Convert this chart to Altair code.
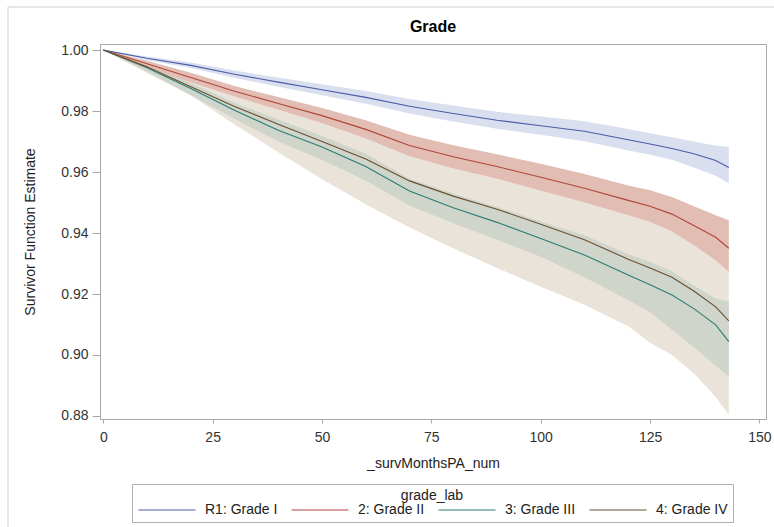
import altair as alt
import pandas as pd

# ---- data ----
months = [0, 10, 20, 30, 40, 50, 60, 70, 80, 90, 100, 110, 120, 125, 130, 135, 140, 143]
grade_labels = ["R1: Grade I", "2: Grade II", "3: Grade III", "4: Grade IV"]

g1_est = [1.000, 0.9973, 0.9950, 0.9921, 0.9895, 0.9870, 0.9845, 0.9816, 0.9792, 0.9770, 0.9752, 0.9734, 0.9706, 0.9692, 0.9677, 0.9660, 0.9638, 0.9615]
g1_hi = [1.000, 0.9979, 0.9959, 0.9933, 0.9910, 0.9888, 0.9866, 0.9840, 0.9818, 0.9798, 0.9782, 0.9767, 0.9741, 0.9727, 0.9714, 0.9700, 0.9686, 0.9683]
g1_lo = [1.000, 0.9967, 0.9941, 0.9909, 0.9880, 0.9852, 0.9824, 0.9792, 0.9766, 0.9742, 0.9722, 0.9701, 0.9671, 0.9657, 0.9640, 0.9615, 0.9588, 0.9563]

g2_est = [1.000, 0.9955, 0.9910, 0.9865, 0.9825, 0.9785, 0.9740, 0.9687, 0.9650, 0.9618, 0.9583, 0.9547, 0.9507, 0.9488, 0.9462, 0.9425, 0.9386, 0.9350]
g2_hi = [1.000, 0.9965, 0.9926, 0.9882, 0.9846, 0.9810, 0.9770, 0.9722, 0.9688, 0.9658, 0.9627, 0.9594, 0.9556, 0.9540, 0.9518, 0.9488, 0.9458, 0.9442]
g2_lo = [1.000, 0.9945, 0.9894, 0.9848, 0.9804, 0.9760, 0.9710, 0.9652, 0.9612, 0.9578, 0.9539, 0.9500, 0.9458, 0.9436, 0.9405, 0.9360, 0.9310, 0.9273]

g3_est = [1.000, 0.9942, 0.9874, 0.9803, 0.9737, 0.9682, 0.9618, 0.9538, 0.9483, 0.9435, 0.9382, 0.9328, 0.9262, 0.9230, 0.9197, 0.9152, 0.9099, 0.9044]
g3_hi = [1.000, 0.9952, 0.9892, 0.9827, 0.9772, 0.9718, 0.9660, 0.9578, 0.9530, 0.9485, 0.9438, 0.9393, 0.9330, 0.9305, 0.9275, 0.9228, 0.9185, 0.9175]
g3_lo = [1.000, 0.9930, 0.9852, 0.9775, 0.9700, 0.9640, 0.9572, 0.9490, 0.9432, 0.9378, 0.9322, 0.9255, 0.9180, 0.9140, 0.9083, 0.9025, 0.8965, 0.8929]

g4_est = [1.000, 0.9945, 0.9880, 0.9815, 0.9757, 0.9700, 0.9643, 0.9571, 0.9521, 0.9478, 0.9429, 0.9378, 0.9314, 0.9285, 0.9255, 0.9210, 0.9158, 0.9112]
g4_hi = [1.000, 0.9948, 0.9894, 0.9848, 0.9804, 0.9760, 0.9710, 0.9652, 0.9612, 0.9578, 0.9539, 0.9500, 0.9458, 0.9436, 0.9405, 0.9360, 0.9310, 0.9273]
g4_lo = [1.000, 0.9925, 0.9852, 0.9756, 0.9665, 0.9576, 0.9494, 0.9418, 0.9350, 0.9285, 0.9224, 0.9165, 0.9094, 0.9040, 0.9000, 0.8940, 0.8862, 0.8803]

x_ticks = [0, 25, 50, 75, 100, 125, 150]
y_ticks = [0.88, 0.90, 0.92, 0.94, 0.96, 0.98, 1.00]

line_colors = ["#4a5ca6", "#b0463a", "#2a7d74", "#6b5030"]
band_colors = ["#dadff0", "#e2bdb3", "#cfd5ca", "#eae3d9"]

series = [(g1_est, g1_lo, g1_hi), (g2_est, g2_lo, g2_hi), (g3_est, g3_lo, g3_hi), (g4_est, g4_lo, g4_hi)]
rows = []
for lab, (est, lo, hi) in zip(grade_labels, series):
    for m, e, l, h in zip(months, est, lo, hi):
        rows.append({"grade_lab": lab, "months": m, "est": e, "lo": l, "hi": h})
df = pd.DataFrame(rows)

FONT = "Liberation Sans"
xscale = alt.Scale(domain=[-0.75, 151.5], nice=False, zero=False)
yscale = alt.Scale(domain=[0.879, 1.002], nice=False, zero=False)

xaxis = alt.Axis(title="_survMonthsPA_num", values=x_ticks, format="d", grid=False,
                 tickSize=4, labelPadding=7, titleY=44, titleBaseline="middle")
yaxis = alt.Axis(title="Survivor Function Estimate", values=y_ticks, format=".2f", grid=False,
                 tickSize=8, labelPadding=4, titleX=-70, titleBaseline="middle")

X = alt.X("months:Q", scale=xscale, axis=xaxis)

base = alt.Chart(df)

# bands drawn in order: Grade IV (widest) first, then III, II, I
band_layers = []
for idx in [3, 2, 1, 0]:
    band_layers.append(
        base.transform_filter(alt.datum.grade_lab == grade_labels[idx])
        .mark_area(color=band_colors[idx], opacity=1)
        .encode(x=X, y=alt.Y("lo:Q", scale=yscale, axis=yaxis), y2="hi:Q")
    )

lines = base.mark_line(strokeWidth=1.1).encode(
    x=X,
    y=alt.Y("est:Q", scale=yscale, axis=yaxis),
    stroke=alt.Stroke(
        "grade_lab:N",
        scale=alt.Scale(domain=grade_labels, range=line_colors),
        sort=grade_labels,
        legend=alt.Legend(
            title="grade_lab", orient="none", legendX=32, legendY=440,
            direction="horizontal", columns=4, titleAnchor="middle", titleOrient="top",
            symbolType="M-5,0L5,0", symbolSize=130, symbolStrokeWidth=1.2,
            symbolOffset=23, labelOffset=31,
            labelFontSize=14, titleFontSize=14, titleFontWeight="normal",
            strokeColor="#b0b0b0", fillColor="white", padding=5, columnPadding=11,
            titlePadding=0, labelColor="#222222", titleColor="#222222",
            labelFont=FONT, titleFont=FONT,
        ),
    ),
    order="months:Q",
)

frame = alt.Chart(pd.DataFrame({"a": [0]})).mark_rect(
    filled=False, stroke="#d0d0d0", strokeWidth=1
).encode(x=alt.value(-92), x2=alt.value(720), y=alt.value(-37), y2=alt.value(530))

chart = alt.layer(*band_layers, lines, frame).properties(
    width=666, height=375,
    padding={"left": 100, "top": 44, "right": 8, "bottom": 108},
    autosize=alt.AutoSizeParams(type="none"),
    title=alt.TitleParams("Grade", fontSize=16, fontWeight="bold", anchor="middle",
                          frame="group", offset=9, dy=37, color="#000000", font=FONT),
    background="white",
).configure_view(
    stroke="#a8a8a8", strokeWidth=1
).configure_axis(
    domainColor="#a8a8a8", tickColor="#a8a8a8", labelColor="#333333", titleColor="#222222",
    labelFont=FONT, titleFont=FONT, labelFontSize=14, titleFontSize=14, titleFontWeight="normal",
)

chart.save("out.html", embed_options={"renderer": "svg", "actions": False})
